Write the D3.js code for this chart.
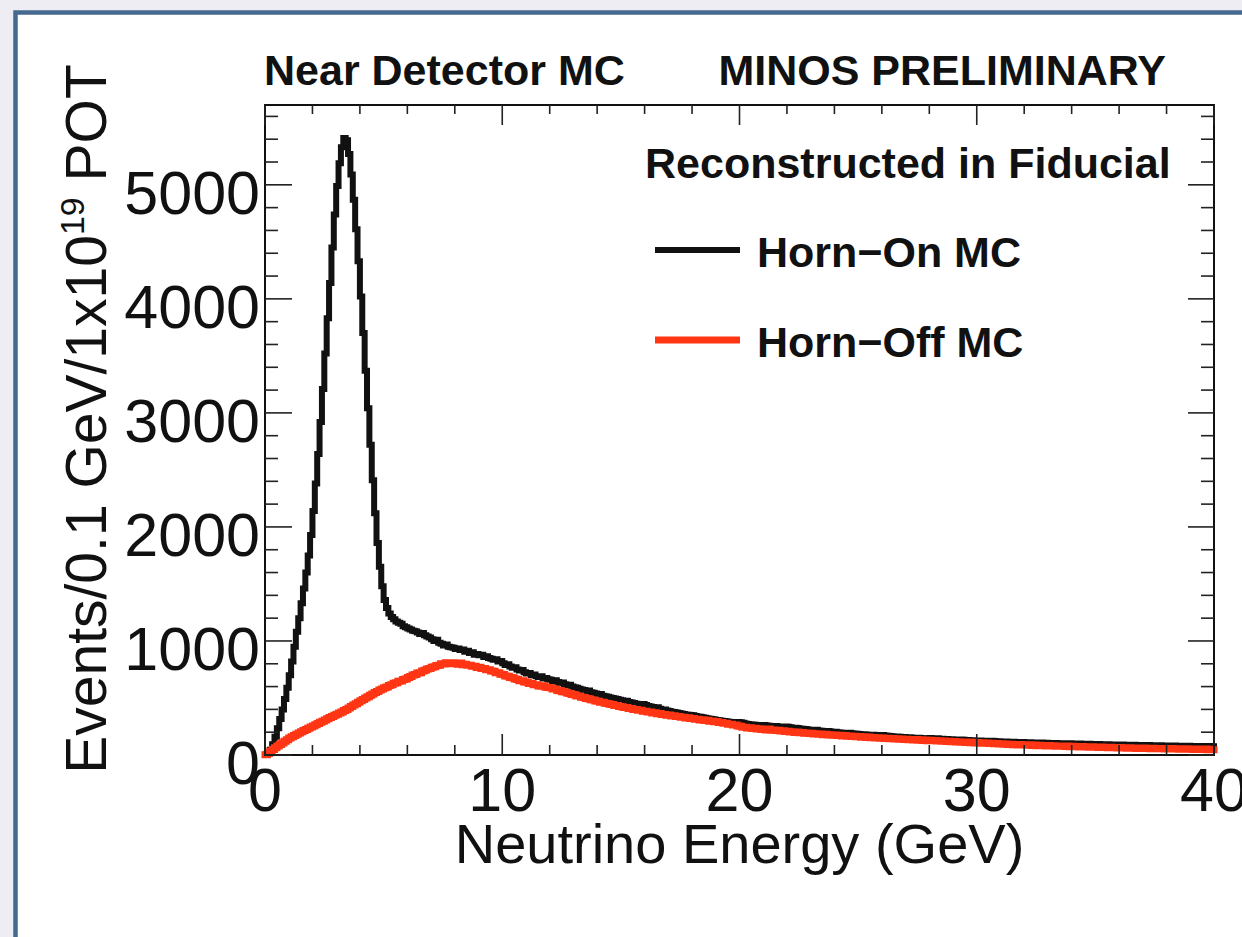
<!DOCTYPE html>
<html>
<head>
<meta charset="utf-8">
<script src="https://cdn.jsdelivr.net/npm/d3@7"></script>
<style>
  html, body { margin: 0; padding: 0; background: #eeedf3; }
  svg { display: block; }
  text { font-family: "Liberation Sans", Arial, Helvetica, sans-serif; fill: #111; }
</style>
</head>
<body>
<script>
// Reconstructed neutrino energy, 0.1 GeV bins from 0 to 40 GeV (events per 1e19 POT)
const binLow = 0;
const binWidth = 0.1;

// Horn-on MC
const hornOn = [
  2, 14, 45, 95, 160, 235, 315, 400, 490, 590,
  700, 820, 950, 1080, 1200, 1330, 1460, 1600, 1750, 1930,
  2140, 2380, 2640, 2920, 3210, 3520, 3830, 4140, 4450, 4740,
  4990, 5190, 5330, 5410, 5390, 5270, 5090, 4870, 4610, 4330,
  4020, 3700, 3370, 3040, 2720, 2410, 2120, 1860, 1650, 1480,
  1360, 1290, 1240, 1210, 1190, 1170, 1160, 1150, 1130, 1120,
  1110, 1100, 1090, 1085, 1075, 1060, 1070, 1050, 1040, 1030,
  1015, 1000, 1010, 985, 975, 960, 970, 950, 945, 940,
  930, 935, 920, 925, 905, 915, 895, 900, 880, 885,
  875, 880, 860, 865, 850, 845, 835, 840, 820, 825,
  805, 790, 795, 775, 765, 770, 750, 740, 745, 725,
  715, 720, 700, 705, 690, 685, 690, 670, 675, 665,
  660, 650, 655, 640, 630, 635, 620, 610, 615, 600,
  595, 590, 580, 575, 570, 560, 565, 550, 545, 540,
  530, 535, 520, 515, 510, 505, 500, 495, 490, 485,
  480, 470, 475, 465, 460, 455, 450, 445, 440, 448,
  438, 430, 425, 420, 415, 418, 405, 400, 398, 390,
  385, 380, 378, 372, 368, 365, 360, 356, 352, 350,
  348, 342, 338, 335, 330, 326, 322, 318, 316, 312,
  308, 305, 300, 298, 296, 292, 290, 285, 283, 290,
  288, 282, 276, 272, 270, 268, 265, 262, 260, 256,
  262, 258, 256, 254, 252, 255, 250, 248, 246, 250,
  248, 244, 240, 238, 236, 232, 230, 228, 225, 222,
  220, 218, 222, 215, 212, 210, 208, 210, 206, 204,
  204, 200, 198, 196, 194, 192, 195, 190, 188, 186,
  185, 183, 181, 180, 178, 176, 177, 175, 173, 172,
  175, 170, 168, 166, 165, 163, 162, 160, 158, 157,
  156, 155, 153, 152, 150, 152, 148, 146, 145, 144,
  148, 147, 145, 146, 143, 142, 141, 140, 139, 138,
  137, 136, 135, 137, 133, 132, 131, 130, 129, 128,
  128, 127, 126, 125, 124, 123, 124, 122, 121, 120,
  119, 118, 118, 117, 116, 116, 115, 114, 114, 113,
  112, 111, 111, 110, 110, 109, 108, 109, 107, 107,
  106, 106, 105, 105, 104, 104, 103, 103, 102, 102,
  101, 101, 100, 100, 99, 99, 98, 98, 97, 97,
  96, 96, 95, 95, 94, 94, 93, 93, 92, 92,
  91, 91, 90, 90, 90, 89, 89, 88, 88, 88,
  87, 87, 87, 86, 86, 85, 85, 85, 84, 84,
  84, 83, 83, 83, 82, 82, 82, 81, 81, 81,
  80, 80, 80, 79, 79, 79, 78, 78, 78, 77
];

// Horn-off MC
const hornOff = [
  3, 16, 32, 48, 63, 78, 92, 106, 120, 134,
  148, 160, 172, 183, 194, 204, 214, 224, 235, 245,
  255, 266, 276, 287, 297, 308, 318, 329, 338, 348,
  357, 368, 377, 390, 400, 413, 425, 438, 449, 463,
  475, 486, 500, 510, 524, 534, 548, 556, 570, 578,
  590, 596, 610, 616, 630, 633, 647, 650, 662, 666,
  680, 688, 702, 706, 718, 722, 737, 743, 754, 758,
  770, 773, 785, 788, 800, 798, 808, 806, 800, 810,
  800, 796, 806, 792, 795, 786, 788, 778, 778, 768,
  770, 758, 758, 748, 748, 736, 735, 722, 721, 708,
  705, 692, 691, 680, 678, 666, 663, 652, 651, 640,
  639, 628, 627, 616, 615, 604, 603, 607, 594, 592,
  590, 578, 578, 566, 564, 554, 552, 543, 540, 530,
  528, 518, 517, 506, 504, 496, 494, 484, 482, 474,
  472, 463, 462, 453, 452, 444, 442, 434, 434, 425,
  424, 416, 416, 408, 408, 400, 400, 392, 392, 384,
  384, 376, 377, 369, 370, 362, 363, 356, 356, 349,
  350, 343, 344, 337, 338, 331, 332, 325, 326, 319,
  320, 313, 314, 308, 309, 302, 304, 297, 298, 292,
  293, 286, 286, 278, 278, 270, 270, 262, 262, 254,
  252, 244, 244, 236, 238, 232, 234, 228, 230, 224,
  226, 220, 228, 218, 220, 214, 216, 210, 212, 206,
  208, 202, 204, 198, 201, 195, 197, 191, 194, 188,
  190, 184, 187, 181, 184, 178, 181, 175, 178, 173,
  176, 170, 173, 167, 170, 164, 167, 162, 164, 159,
  162, 156, 159, 154, 157, 151, 154, 149, 152, 147,
  150, 144, 147, 142, 145, 140, 143, 138, 141, 136,
  139, 134, 137, 132, 135, 130, 133, 128, 131, 126,
  129, 124, 127, 122, 125, 120, 123, 118, 121, 116,
  119, 114, 117, 112, 115, 110, 113, 108, 111, 106,
  109, 104, 107, 102, 105, 100, 103, 98, 101, 96,
  99, 94, 97, 92, 95, 90, 93, 88, 92, 87,
  90, 85, 89, 84, 87, 82, 86, 81, 84, 80,
  83, 78, 82, 77, 80, 76, 79, 74, 78, 73,
  77, 72, 75, 71, 74, 70, 73, 68, 72, 67,
  71, 66, 70, 65, 68, 64, 67, 63, 66, 62,
  65, 61, 64, 60, 63, 59, 62, 58, 62, 57,
  61, 56, 60, 55, 59, 55, 58, 54, 57, 53,
  57, 52, 56, 52, 55, 51, 55, 50, 54, 50,
  53, 49, 53, 48, 52, 48, 52, 47, 51, 47
];

const xDomain = [0, 40];
const yDomain = [0, 5700];
const xMajorTicks = [0, 10, 20, 30, 40];
const yMajorTicks = [0, 1000, 2000, 3000, 4000, 5000];
const xMinorStep = 2;
const yMinorStep = 200;

const seriesNames = ["Horn\u2212On MC", "Horn\u2212Off MC"];
const seriesColors = ["#111111", "#ff3513"];
const seriesWidths = [6, 7];

const W = 1242, H = 937;
const frame = { left: 265, right: 1214, top: 105, bottom: 755 };

const svg = d3.select("body").append("svg")
  .attr("width", W).attr("height", H);

// slide panel: white card with blue edge
svg.append("rect")
  .attr("x", 15.5).attr("y", 12.5)
  .attr("width", W + 20).attr("height", H + 20)
  .attr("fill", "#ffffff")
  .attr("stroke", "#45698f").attr("stroke-width", 4.5);

const x = d3.scaleLinear().domain(xDomain).range([frame.left, frame.right]);
const y = d3.scaleLinear().domain(yDomain).range([frame.bottom, frame.top]);

// histogram outlines
function stepPoints(vals) {
  const pts = [];
  vals.forEach((v, i) => {
    const e0 = binLow + i * binWidth;
    pts.push([e0, v], [e0 + binWidth, v]);
  });
  return pts;
}
const line = d3.line().x(d => x(d[0])).y(d => y(d[1]));

const plot = svg.append("g");
[hornOn, hornOff].forEach((vals, k) => {
  plot.append("path")
    .attr("d", line(stepPoints(vals)))
    .attr("fill", "none")
    .attr("stroke", seriesColors[k])
    .attr("stroke-width", seriesWidths[k])
    .attr("stroke-linejoin", "miter")
    .attr("stroke-linecap", "square");
});

// frame
svg.append("rect")
  .attr("x", frame.left).attr("y", frame.top)
  .attr("width", frame.right - frame.left).attr("height", frame.bottom - frame.top)
  .attr("fill", "none").attr("stroke", "#111").attr("stroke-width", 2);

// ticks on all four sides
const xMinor = d3.range(xDomain[0], xDomain[1] + 1e-9, xMinorStep);
const yMinor = d3.range(yDomain[0], yDomain[1] + 1e-9, yMinorStep);
const tickG = svg.append("g").attr("stroke", "#222").attr("stroke-width", 1.6);
xMinor.forEach(v => {
  const major = xMajorTicks.includes(v);
  tickG.append("line").attr("x1", x(v)).attr("x2", x(v))
    .attr("y1", frame.bottom).attr("y2", frame.bottom - (major ? 21 : 10));
  tickG.append("line").attr("x1", x(v)).attr("x2", x(v))
    .attr("y1", frame.top).attr("y2", frame.top + (major ? 20 : 9));
});
yMinor.forEach(v => {
  const major = yMajorTicks.includes(v);
  tickG.append("line").attr("y1", y(v)).attr("y2", y(v))
    .attr("x1", frame.left).attr("x2", frame.left + (major ? 27 : 13));
  tickG.append("line").attr("y1", y(v)).attr("y2", y(v))
    .attr("x1", frame.right).attr("x2", frame.right - (major ? 26 : 13));
});

// tick labels
svg.append("g").selectAll("text").data(yMajorTicks).join("text")
  .attr("x", 260).attr("y", d => y(d) + 29)
  .attr("text-anchor", "end")
  .style("font-size", "61px")
  .text(d => d);
svg.append("g").selectAll("text").data(xMajorTicks).join("text")
  .attr("x", d => x(d)).attr("y", 811)
  .attr("text-anchor", "middle")
  .style("font-size", "61px")
  .text(d => d);

// axis titles
svg.append("text")
  .attr("x", (frame.left + frame.right) / 2).attr("y", 863)
  .attr("text-anchor", "middle")
  .style("font-size", "56px")
  .text("Neutrino Energy (GeV)");

const yTitle = svg.append("text")
  .attr("transform", "translate(106,419) rotate(-90)")
  .attr("text-anchor", "middle")
  .style("font-size", "57px");
yTitle.append("tspan").text("Events/0.1 GeV/1x10");
yTitle.append("tspan").attr("dy", -22).style("font-size", "34px").text("19");
yTitle.append("tspan").attr("dy", 22).text(" POT");

// header texts
svg.append("text").attr("x", 264).attr("y", 85)
  .style("font-size", "43px").style("font-weight", "bold")
  .text("Near Detector MC");
svg.append("text").attr("x", 1166).attr("y", 85)
  .attr("text-anchor", "end")
  .style("font-size", "43px").style("font-weight", "bold")
  .text("MINOS PRELIMINARY");

// legend
const legend = svg.append("g");
legend.append("text").attr("x", 645).attr("y", 178)
  .style("font-size", "43px").style("font-weight", "bold")
  .text("Reconstructed in Fiducial");
const legendRows = [250, 340];
seriesNames.forEach((name, k) => {
  legend.append("line")
    .attr("x1", 655).attr("x2", 740)
    .attr("y1", legendRows[k]).attr("y2", legendRows[k])
    .attr("stroke", seriesColors[k]).attr("stroke-width", seriesWidths[k]);
  legend.append("text").attr("x", 757).attr("y", legendRows[k] + 17)
    .style("font-size", "43px").style("font-weight", "bold")
    .text(name);
});
</script>
</body>
</html>
